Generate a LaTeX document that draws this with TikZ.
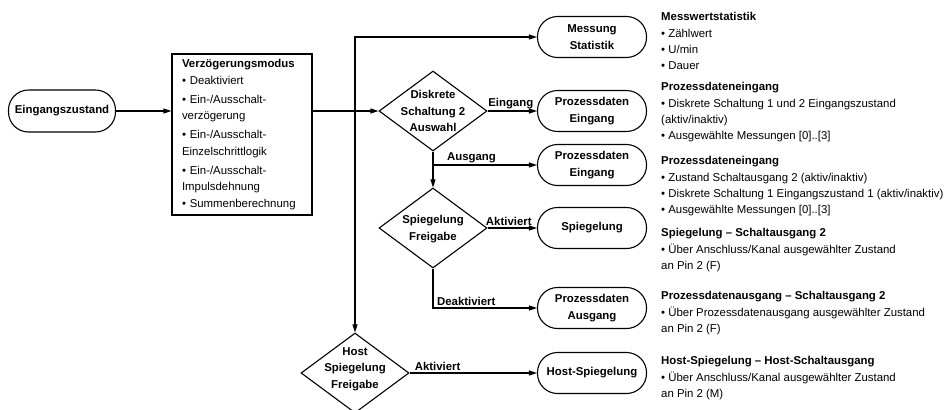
\documentclass[tikz,border=0pt]{standalone}
\usepackage{fontspec}
\setmainfont{Liberation Sans}
\usetikzlibrary{shapes.geometric,arrows.meta}
\begin{document}
\begin{tikzpicture}[x=1pt,y=-1pt,
  every node/.style={font=\fontsize{11.4}{16.3}\selectfont},
  term/.style={draw, line width=1.1pt, rectangle, rounded corners=20pt, minimum width=109pt, minimum height=41pt, align=center, font=\fontsize{11.4}{16.3}\selectfont\bfseries, inner sep=0pt},
  dia/.style={draw, line width=1.1pt, diamond, minimum width=108pt, minimum height=80pt, inner sep=0pt},
  arr/.style={line width=1.1pt, -{Triangle[length=8pt,width=5pt]}},
  lbl/.style={font=\fontsize{11.4}{16.3}\selectfont\bfseries, inner sep=2pt},
  dtext/.style={font=\fontsize{11.4}{16.5}\selectfont\bfseries, align=center, inner sep=0pt},
  info/.style={anchor=north west, align=left, inner sep=0pt}
]
\useasboundingbox (0,0) rectangle (946,410);

% nodes
\node[term, minimum width=107pt, minimum height=42pt] (ez) at (62,111) {Eingangszustand};
\node[draw, line width=1.1pt, minimum width=140pt, minimum height=161pt, text width=120pt, inner xsep=10pt, inner ysep=0pt, align=left] (vz) at (242,134.5)
 {\textbf{Verzögerungsmodus}\\• Deaktiviert\\[3pt]• Ein-/Ausschalt-\\verzögerung\\[3pt]• Ein-/Ausschalt-\\Einzelschrittlogik\\[3pt]• Ein-/Ausschalt-\\Impulsdehnung\\• Summenberechnung};

\node[dia] (d1) at (433,111) {};
\node[dtext] (d1t) at (433,111) {Diskrete\\Schaltung 2\\Auswahl};
\node[dia] (d2) at (433,228) {};
\node[dtext] (d2t) at (433,229) {Spiegelung\\Freigabe};
\node[dia] (hd) at (355,373) {};
\node[dtext] (hdt) at (355,369) {Host\\Spiegelung\\Freigabe};

\node[term] (ms) at (592,37) {Messung\\Statistik};
\node[term] (pe1) at (592,111) {Prozessdaten\\Eingang};
\node[term] (pe2) at (592,165) {Prozessdaten\\Eingang};
\node[term] (sp) at (592,228) {Spiegelung};
\node[term] (pa) at (592,308) {Prozessdaten\\Ausgang};
\node[term] (hs) at (592,373) {Host-Spiegelung};

% info texts
\node[info] (i1) at (661,12.5) {\textbf{Messwertstatistik}\\• Zählwert\\• U/min\\• Dauer};
\node[info] (i2) at (661,82.5) {\textbf{Prozessdateneingang}\\• Diskrete Schaltung 1 und 2 Eingangszustand\\(aktiv/inaktiv)\\• Ausgewählte Messungen [0]..[3]};
\node[info] (i3) at (661,156.5) {\textbf{Prozessdateneingang}\\• Zustand Schaltausgang 2 (aktiv/inaktiv)\\• Diskrete Schaltung 1 Eingangszustand 1 (aktiv/inaktiv)\\• Ausgewählte Messungen [0]..[3]};
\node[info] (i4) at (661,228.5) {\textbf{Spiegelung – Schaltausgang 2}\\• Über Anschluss/Kanal ausgewählter Zustand\\an Pin 2 (F)};
\node[info] (i5) at (661,291.5) {\textbf{Prozessdatenausgang – Schaltausgang 2}\\• Über Prozessdatenausgang ausgewählter Zustand\\an Pin 2 (F)};
\node[info] (i6) at (661,356.5) {\textbf{Host-Spiegelung – Host-Schaltausgang}\\• Über Anschluss/Kanal ausgewählter Zustand\\an Pin 2 (M)};

% connectors
\draw[arr] (ez.east) -- (vz.west |- ez.east);
\draw[arr] (vz.east |- d1.west) -- (d1.west);
\coordinate (j) at (355,111);
\draw[arr] (j) |- (ms.west);
\draw[arr] (j) -- (hd.north);
\draw[arr] (d1.east) -- node[lbl, above, pos=0.47] {Eingang} (pe1.west);
\draw[arr] (d1.south) -- (d2.north);
\draw[arr] (d1.south |- pe2.west) -- node[lbl, above, pos=0.37] {Ausgang} (pe2.west);
\draw[arr] (d2.east) -- node[lbl, above, pos=0.43] {Aktiviert} (sp.west);
\draw[arr] (d2.south) |- node[lbl, above, pos=0.66] {Deaktiviert} (pa.west);
\draw[arr] (hd.east) -- node[lbl, above, pos=0.22] {Aktiviert} (hs.west);
\end{tikzpicture}
\end{document}
